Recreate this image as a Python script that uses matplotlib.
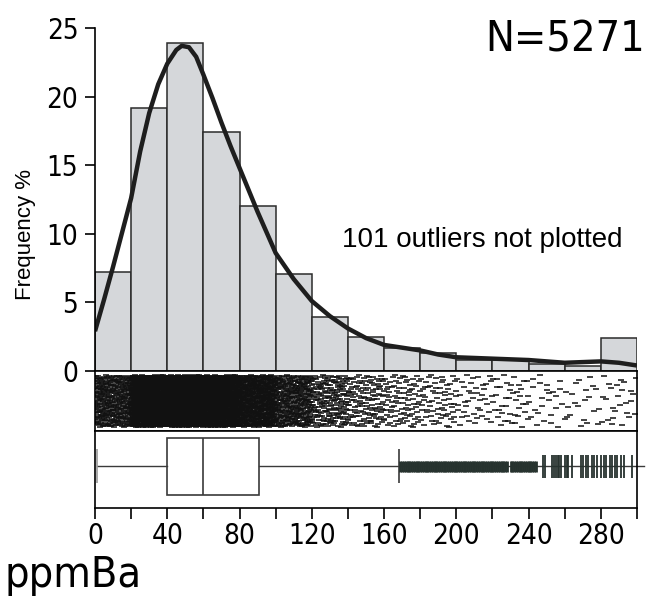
import numpy as np
import matplotlib
matplotlib.use("Agg")
import matplotlib.pyplot as plt
from matplotlib import font_manager as fm
from matplotlib.patches import Rectangle

# histogram of ppm Ba, bins of 20, frequency in % of all samples
N_TOTAL = 5271
N_OUT = 101
bin_left = [0, 20, 40, 60, 80, 100, 120, 140, 160, 180, 200, 220, 240, 260, 280]
freq_pct = [7.2, 19.2, 23.9, 17.4, 12.0, 7.1, 3.9, 2.5, 1.7, 1.3, 0.8, 0.8, 0.5, 0.4, 2.4]

# density curve
curve_x = [0, 5, 10, 15, 20, 25, 30, 35, 40, 45, 48, 52, 56, 60, 65, 70, 75, 80,
           90, 100, 110, 120, 130, 140, 150, 160, 170, 180, 190, 200, 220, 240,
           250, 260, 270, 280, 290, 300]
curve_y = [2.9, 5.2, 7.6, 10.1, 12.6, 16.0, 18.8, 20.9, 22.4, 23.4, 23.7, 23.6,
           22.9, 21.6, 19.9, 18.1, 16.4, 14.8, 11.6, 8.6, 6.7, 5.1, 4.0, 3.1,
           2.4, 1.9, 1.7, 1.5, 1.2, 1.0, 0.9, 0.8, 0.7, 0.6, 0.65, 0.7, 0.6, 0.4]

# boxplot statistics
data_min = 1
q1, median, q3 = 40, 60, 91
upper_whisker = 168
# near outliers: every integer value 169..244 present except 229
near_out = [v for v in range(169, 245) if v != 229]
far_out = [248, 249, 253, 254, 255, 256, 257, 258, 260, 261, 262, 264, 269, 270,
           272, 273, 275, 276, 278, 280, 282, 283, 285, 286, 288, 289, 291, 293, 297]

names = {f.name for f in fm.fontManager.ttflist}
if "Liberation Sans Narrow" in names:
    narrow = dict(family="Liberation Sans Narrow")
else:
    narrow = dict(family="DejaVu Sans", stretch="condensed")
plain = dict(family="Liberation Sans")


def radical_inverse(n, base):
    # van der Corput position, used only to spread the strip marks
    r, f = 0.0, 1.0 / base
    while n > 0:
        r += f * (n % base)
        n //= base
        f /= base
    return r


W, H = 649, 600
fig = plt.figure(figsize=(W / 100, H / 100), dpi=100)
L, R = 95, 637


def box(top, bottom):
    return [L / W, 1 - bottom / H, (R - L) / W, (bottom - top) / H]


ax_h = fig.add_axes(box(28, 371))
ax_s = fig.add_axes(box(371, 431))
ax_b = fig.add_axes(box(431, 508))

# histogram
ax_h.bar(bin_left, freq_pct, width=20, align="edge", color="#d5d7da",
         edgecolor="#2b2b2b", linewidth=1.1)
ax_h.plot(curve_x, curve_y, color="#1e1e1e", lw=3.2, solid_capstyle="butt",
          solid_joinstyle="round")
ax_h.set_xlim(0, 300)
ax_h.set_ylim(0, 25)
for s in ["top", "right", "bottom"]:
    ax_h.spines[s].set_visible(False)
ax_h.spines["left"].set_linewidth(1.2)
ax_h.set_xticks([])
ax_h.set_yticks([0, 5, 10, 15, 20, 25])
ax_h.tick_params(axis="y", direction="out", length=7, width=1.2, pad=5)
for t in ax_h.get_yticklabels():
    t.set_fontsize(20)
    t.set(**narrow)

# strip of individual values, counts per bin from the histogram
counts = [round(p * N_TOTAL / 100) for p in freq_pct]
counts[-1] -= N_OUT
xs, ys = [], []
for left, c in zip(bin_left, counts):
    for i in range(1, c + 1):
        xs.append(left + 20 * radical_inverse(i + left, 2))
        ys.append(0.07 + 0.86 * radical_inverse(i + left, 3))
ax_s.plot(xs, ys, ls="none", marker="_", ms=3.8, mew=1.1, color="#111111")
ax_s.set_xlim(0, 300)
ax_s.set_ylim(0, 1)
ax_s.set_xticks([])
ax_s.set_yticks([])
for s in ax_s.spines.values():
    s.set_linewidth(1.2)

# boxplot
lc = "#3a3a3a"
ax_b.plot([data_min, q1], [0, 0], color=lc, lw=1)
ax_b.plot([q3, 304], [0, 0], color=lc, lw=1, clip_on=False)
ax_b.vlines([data_min], -0.44, 0.44, color="#9a9a9a", lw=1.2)
ax_b.vlines([upper_whisker], -0.44, 0.44, color=lc, lw=1.2)
ax_b.add_patch(Rectangle((q1, -0.75), q3 - q1, 1.5, fill=False,
                         edgecolor=lc, lw=1.2))
ax_b.vlines([median], -0.75, 0.75, color=lc, lw=1.2)
ax_b.vlines(near_out, -0.15, 0.15, color="#26322e", lw=2.0)
ax_b.vlines(far_out, -0.29, 0.29, color="#26322e", lw=1.3)
ax_b.set_xlim(0, 300)
ax_b.set_ylim(-1.08, 0.92)
ax_b.set_yticks([])
for s in ax_b.spines.values():
    s.set_linewidth(1.2)
ticks = list(range(0, 301, 20))
ax_b.set_xticks(ticks)
ax_b.set_xticklabels([str(t) if t % 40 == 0 and t < 300 else "" for t in ticks])
ax_b.tick_params(axis="x", direction="out", length=8, width=1.2, pad=2)
for t in ax_b.get_xticklabels():
    t.set_fontsize(20)
    t.set(**narrow)

# texts
fig.text(645 / W, 1 - 52 / H, "N=5271", ha="right", va="baseline",
         fontsize=31, **narrow)
fig.text(482 / W, 1 - 247 / H, "101 outliers not plotted", ha="center",
         va="baseline", fontsize=20, **plain)
fig.text(26 / W, 1 - 235 / H, "Frequency %", ha="center", va="center",
         rotation=90, fontsize=16, **plain)
fig.text(5 / W, 1 - 587 / H, "ppmBa", ha="left", va="baseline",
         fontsize=31, **narrow)

fig.savefig("out.png", dpi=100)
